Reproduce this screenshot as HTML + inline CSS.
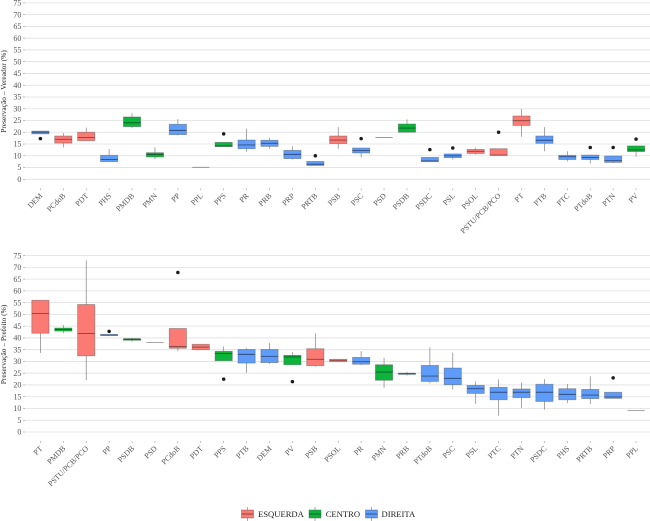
<!DOCTYPE html>
<html lang="pt">
<head>
<meta charset="utf-8">
<title>Preservação por partido</title>
<style>
html,body{margin:0;padding:0;background:#fff;width:650px;height:521px;overflow:hidden}
svg{display:block}
text{font-family:"Liberation Serif",serif}
</style>
</head>
<body>
<svg id="chart" xmlns="http://www.w3.org/2000/svg" width="650" height="521" viewBox="0 0 650 521">
  <g id="top-panel"></g>
  <g id="bottom-panel"></g>
  <text transform="translate(6,91.5) rotate(-90)" text-anchor="middle" font-size="7.4" fill="#222">Preservação – Vereador (%)</text>
  <text transform="translate(6,344.5) rotate(-90)" text-anchor="middle" font-size="7.4" fill="#222">Preservação – Prefeito (%)</text>
  <g>
    <g>
      <line x1="247.5" x2="247.5" y1="507" y2="521" stroke="#888" stroke-width=".7"/>
      <rect x="241.5" y="510" width="12" height="8" fill="#FB7A74" stroke="#555" stroke-opacity=".6" stroke-width=".7"/>
      <line x1="241.5" x2="253.5" y1="514" y2="514" stroke="#7a3a38" stroke-width=".9"/>
      <text x="258" y="517" font-size="8.6" fill="#222">ESQUERDA</text>
    </g>
    <g>
      <line x1="315" x2="315" y1="507" y2="521" stroke="#888" stroke-width=".7"/>
      <rect x="309" y="510" width="12" height="8" fill="#0CB43C" stroke="#555" stroke-opacity=".6" stroke-width=".7"/>
      <line x1="309" x2="321" y1="514" y2="514" stroke="#0a5c22" stroke-width=".9"/>
      <text x="325.700" y="517" font-size="8.6" fill="#222">CENTRO</text>
    </g>
    <g>
      <line x1="371.500" x2="371.500" y1="507" y2="521" stroke="#888" stroke-width=".7"/>
      <rect x="365.500" y="510" width="12" height="8" fill="#5F9CFA" stroke="#555" stroke-opacity=".6" stroke-width=".7"/>
      <line x1="365.500" x2="377.500" y1="514" y2="514" stroke="#2d4c80" stroke-width=".9"/>
      <text x="381.500" y="517" font-size="8.6" fill="#222">DIREITA</text>
    </g>
  </g>
</svg>
<script>
var yTicks = [0,5,10,15,20,25,30,35,40,45,50,55,60,65,70,75];
var leftParties = ["PCdoB","PDT","PSB","PSOL","PSTU/PCB/PCO","PT"];
var centerParties = ["PMDB","PMN","PPS","PSD2","PSDB","PV"];

var topCategories = ["DEM","PCdoB","PDT","PHS","PMDB","PMN","PP","PPL","PPS","PR","PRB","PRP","PRTB","PSB","PSC","PSD","PSDB","PSDC","PSL","PSOL","PSTU/PCB/PCO","PT","PTB","PTC","PTdoB","PTN","PV"];
var topQ1 =     [19.3,15.4,16.4,7.5,22.4,9.5,19,5.1,13.9,13,14,8.8,5.9,15.2,11.2,17.8,20,7.5,9.2,11,10.2,22.9,15.3,8.4,8.4,7.2,11.8];
var topMedian = [20,17,17.8,8.4,24,10.6,20.8,5.1,14.2,14.6,15.3,10.6,6.4,16.7,12.2,17.8,21.8,7.8,10,11.9,10.3,24.9,16.6,9.6,9.3,7.9,12.5];
var topQ3 =     [20.5,18.4,20,10.2,26.5,11.3,23.4,5.1,15.7,16.7,16.6,12.3,7.6,18.4,13.3,17.8,23.5,9.3,10.8,12.7,13,26.9,18.4,10.2,10.3,9.9,14.2];
var topLow =    [19.3,13.5,16.4,7.5,21.8,8.5,18.6,5.1,13.9,11.8,13,8.4,5.9,13,9.3,17.8,20,7.5,8.4,10.5,10.2,18.1,12,7.6,6.7,6.9,9.6];
var topHigh =   [20.5,19.7,22,12.9,28.2,13.6,25.6,5.1,15.7,21.5,17.6,14,7.6,22.2,13.3,17.8,25.5,9.3,10.8,13.5,13,29.9,22.2,11.9,10.3,9.9,14.2];
var topOutlier = [17.3,null,null,null,null,null,null,null,19.3,null,null,null,10,null,17.3,null,null,12.6,13.3,null,20,null,null,null,13.5,13.5,17.1];

var bottomCategories = ["PT","PMDB","PSTU/PCB/PCO","PP","PSDB","PSD","PCdoB","PDT","PPS","PTB","DEM","PV","PSB","PSOL","PR","PMN","PRB","PTdoB","PSC","PSL","PTC","PTN","PSDC","PHS","PRTB","PRP","PPL"];
var bottomQ1 =     [42,42.9,32.4,41,39,38.1,35.6,35,30.3,29.3,29.5,28.6,28.2,29.9,28.8,22,24.5,21.5,20.1,16.4,13.7,14.6,13,13.7,14.2,14.3,9.2];
var bottomMedian = [50.4,43.6,41.9,41.2,39.4,38.1,36.3,36.1,33.4,33,32.2,31.9,30.9,30.5,29.9,25.5,24.8,23.8,22.8,18.4,16.9,16.9,16.9,16,15.7,14.9,9.2];
var bottomQ3 =     [56,44.2,54.2,41.5,39.7,38.1,44,37.3,34.3,35.1,35.1,32.6,35.4,30.9,31.7,28.6,25,28.3,27.2,19.8,19,18.3,20.3,18.4,18.1,16.9,9.2];
var bottomLow =    [33.6,42,22.1,41,38.4,38.1,34.5,35,30.3,25.2,29,28.6,27.8,29.9,28.5,18.8,24,20.7,18,12,6.9,10.2,9.5,12.3,11.9,14.3,9.2];
var bottomHigh =   [56,45.5,73,41.5,40,38.1,44,37.3,36.4,35.6,37.8,33.9,41.9,30.9,34.4,31.6,25.5,36,33.7,21.5,22.4,21,22.5,20.4,23.7,16.9,9.2];
var bottomOutlier = [null,null,null,42.8,null,null,67.8,null,22.5,null,null,21.4,null,null,null,null,null,null,null,null,null,null,null,null,null,23,null];

var NS = "http://www.w3.org/2000/svg";
var plotLeft = 25, plotRight = 650, firstX = 40.4, stepX = 22.91, boxWidth = 17.2, pxPerUnit = 2.352;

function xScale(i){ return firstX + i * stepX; }
function makeYScale(zeroY){ return function(v){ return zeroY - v * pxPerUnit; }; }
function leaningOf(name){
  if (leftParties.indexOf(name) >= 0) return "#FB7A74";
  if (centerParties.indexOf(name) >= 0) return "#0CB43C";
  return "#5F9CFA";
}
function medianColor(name){
  if (leftParties.indexOf(name) >= 0) return "#8a3f3c";
  if (centerParties.indexOf(name) >= 0) return "#0a5c22";
  return "#2d4c80";
}
function add(parent, tag, attrs){
  var el = document.createElementNS(NS, tag);
  for (var k in attrs) el.setAttribute(k, attrs[k]);
  parent.appendChild(el);
  return el;
}
function drawPanel(id, key, zeroY, cats, q1, med, q3, low, high, outl){
  var g = document.getElementById(id);
  var y = makeYScale(zeroY);
  yTicks.forEach(function(t){
    var grid = add(g, "line", {x1:plotLeft, x2:plotRight, y1:y(t), y2:y(t), stroke:"#dfdfdf", "stroke-width":0.8});
    
    
    var tick = add(g, "line", {x1:plotLeft-2, x2:plotLeft, y1:y(t), y2:y(t), stroke:"#999", "stroke-width":0.6});
    
    
    var lab = add(g, "text", {x:plotLeft-3.6, y:y(t)+2.7, "text-anchor":"end", "font-size":8, fill:"#555"});
    lab.textContent = t;
    
    
  });
  cats.forEach(function(name, i){
    var cx = xScale(i);
    var axisY = zeroY + 9;
    var xt = add(g, "line", {x1:cx, x2:cx, y1:axisY, y2:axisY+2, stroke:"#999", "stroke-width":0.6});
    
    
    var xl = add(g, "text", {transform:"translate("+(cx+2.6)+","+(axisY+8)+") rotate(-45)", "text-anchor":"end", "font-size":7.8, fill:"#555"});
    xl.textContent = name;
    
    

    var box = add(g, "g", {});
    
    
    if (q1[i] === q3[i]) {
      add(box, "line", {x1:cx-boxWidth/2, x2:cx+boxWidth/2, y1:y(med[i]), y2:y(med[i]), stroke:"#8c8c8c", "stroke-width":0.8});
    } else {
      add(box, "line", {x1:cx, x2:cx, y1:y(high[i]), y2:y(q3[i]), stroke:"#808080", "stroke-width":0.7});
      add(box, "line", {x1:cx, x2:cx, y1:y(q1[i]), y2:y(low[i]), stroke:"#808080", "stroke-width":0.7});
      add(box, "rect", {x:cx-boxWidth/2, y:y(q3[i]), width:boxWidth, height:y(q1[i])-y(q3[i]), fill:leaningOf(name), stroke:"#555", "stroke-opacity":0.5, "stroke-width":0.8});
      add(box, "line", {x1:cx-boxWidth/2, x2:cx+boxWidth/2, y1:y(med[i]), y2:y(med[i]), stroke:medianColor(name), "stroke-width":0.9});
    }
    if (outl[i] !== null) {
      add(box, "circle", {cx:cx, cy:y(outl[i]), r:1.75, fill:"#1c1c1c"});
    }
  });
}
drawPanel("top-panel", "vereador", 179.3, topCategories, topQ1, topMedian, topQ3, topLow, topHigh, topOutlier);
drawPanel("bottom-panel", "prefeito", 432, bottomCategories, bottomQ1, bottomMedian, bottomQ3, bottomLow, bottomHigh, bottomOutlier);
</script>
</body>
</html>
